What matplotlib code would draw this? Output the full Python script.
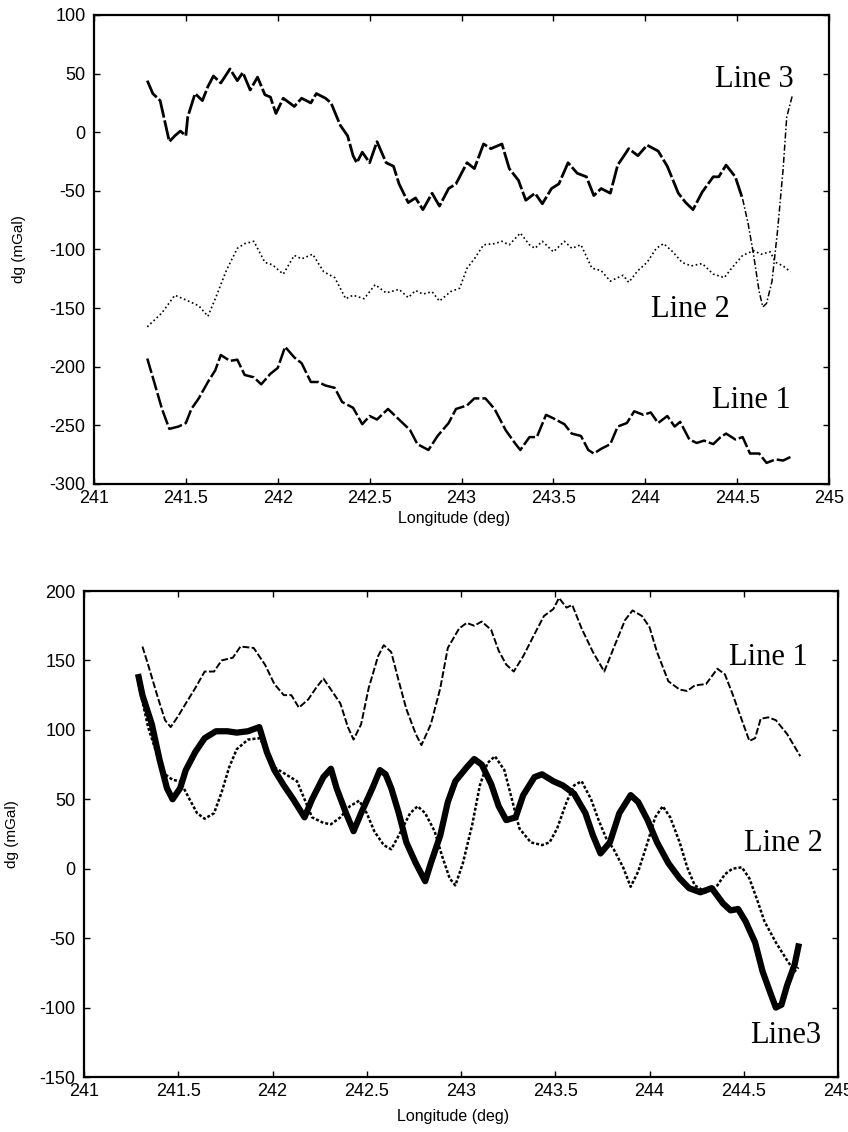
import matplotlib
matplotlib.use("Agg")
import matplotlib.pyplot as plt
import numpy as np

# ---------------- Top panel data ----------------
top_l3_x = [241.29,241.32,241.36,241.38,241.41,241.44,241.47,241.50,241.51,241.55,241.59,241.62,241.65,241.69,
            241.74,241.78,241.81,241.85,241.89,241.93,241.96,241.99,242.03,242.09,242.13,242.18,242.21,242.26,
            242.29,242.34,242.38,242.41,242.43,242.46,242.50,242.54,242.59,242.63,242.66,242.71,242.75,242.79,
            242.84,242.88,242.93,242.97,243.03,243.07,243.12,243.16,243.22,243.26,243.31,243.35,243.40,243.44,
            243.49,243.53,243.58,243.63,243.68,243.72,243.76,243.81,243.85,243.91,243.96,244.01,244.07,244.12,
            244.18,244.22,244.26,244.31,244.37,244.40,244.44,244.49,244.53,244.56,244.59,244.62,244.64,244.66,
            244.69,244.72,244.75,244.77,244.80]
top_l3_y = [44,33,27,13,-8,-3,1,-3,13,33,27,39,48,42,54,44,51,36,47,32,30,16,29,22,29,25,33,29,25,6,-3,-20,-26,
            -17,-26,-8,-26,-29,-44,-60,-56,-66,-52,-63,-48,-44,-26,-31,-10,-14,-10,-31,-41,-58,-52,-61,-48,-44,
            -26,-35,-38,-54,-48,-52,-28,-14,-20,-11,-16,-29,-52,-60,-66,-51,-38,-38,-28,-38,-57,-78,-105,-136,
            -149,-146,-127,-84,-32,13,31]

top_l2_x = [241.29,241.37,241.44,241.50,241.57,241.62,241.66,241.72,241.78,241.82,241.87,241.93,241.97,242.03,
            242.09,242.13,242.19,242.25,242.31,242.37,242.41,242.47,242.53,242.59,242.66,242.71,242.75,242.79,
            242.84,242.88,242.94,242.99,243.03,243.07,243.12,243.18,243.22,243.26,243.32,243.37,243.40,243.44,
            243.50,243.56,243.60,243.65,243.71,243.76,243.81,243.85,243.88,243.91,243.96,244.01,244.06,244.10,
            244.15,244.20,244.25,244.31,244.37,244.43,244.47,244.53,244.59,244.63,244.68,244.71,244.75,244.79]
top_l2_y = [-166,-154,-139,-143,-148,-157,-142,-118,-99,-95,-93,-111,-113,-121,-105,-108,-104,-119,-124,-142,
            -139,-142,-130,-137,-134,-141,-135,-138,-136,-144,-136,-133,-116,-108,-96,-95,-93,-96,-86,-96,-99,
            -93,-102,-93,-99,-96,-116,-118,-127,-124,-122,-128,-118,-111,-99,-95,-102,-111,-114,-112,-121,-124,
            -116,-105,-101,-104,-102,-111,-114,-119]

top_l1_x = [241.29,241.32,241.37,241.41,241.46,241.50,241.53,241.57,241.62,241.66,241.69,241.74,241.78,241.82,
            241.87,241.91,241.96,242.00,242.04,242.09,242.13,242.18,242.22,242.26,242.31,242.35,242.41,242.46,
            242.50,242.54,242.60,242.66,242.72,242.76,242.82,242.87,242.93,242.97,243.03,243.07,243.13,243.18,
            243.24,243.29,243.32,243.37,243.41,243.46,243.50,243.56,243.60,243.65,243.69,243.72,243.76,243.81,
            243.85,243.90,243.94,243.99,244.03,244.07,244.12,244.16,244.19,244.24,244.28,244.32,244.37,244.41,
            244.44,244.49,244.53,244.57,244.62,244.66,244.71,244.75,244.79]
top_l1_y = [-193,-209,-236,-253,-251,-248,-236,-227,-213,-203,-190,-195,-194,-207,-209,-215,-206,-201,-183,-192,
            -197,-213,-213,-216,-218,-230,-235,-249,-242,-245,-236,-245,-254,-266,-271,-259,-248,-236,-233,-227,
            -227,-236,-254,-265,-271,-260,-260,-241,-244,-249,-257,-259,-271,-274,-270,-266,-251,-248,-238,-241,
            -239,-248,-242,-251,-247,-262,-265,-263,-266,-260,-257,-262,-260,-274,-274,-282,-279,-280,-277]

# ---------------- Bottom panel data ----------------
bot_l1_x = [241.31,241.34,241.39,241.43,241.46,241.50,241.54,241.59,241.64,241.69,241.73,241.79,241.83,241.90,
            241.96,242.01,242.06,242.10,242.14,242.19,242.23,242.27,242.31,242.36,242.40,242.43,242.47,242.51,
            242.56,242.59,242.63,242.67,242.71,242.76,242.79,242.84,242.89,242.93,242.99,243.03,243.07,243.11,
            243.16,243.20,243.24,243.28,243.33,243.39,243.44,243.49,243.52,243.56,243.59,243.64,243.70,243.76,
            243.81,243.87,243.91,243.96,244.00,244.04,244.10,244.16,244.20,244.24,244.30,244.36,244.40,244.44,
            244.49,244.53,244.56,244.59,244.63,244.67,244.73,244.80]
bot_l1_y = [160,147,124,107,102,110,119,130,142,142,150,152,160,159,147,133,125,125,116,122,130,137,129,119,102,
            93,104,130,153,161,156,135,115,97,89,104,130,159,173,177,175,178,172,157,147,142,153,169,182,187,195,
            188,190,173,156,142,159,179,186,182,174,156,135,129,128,132,133,144,140,126,107,92,94,108,109,107,97,81]

bot_l2_x = [241.29,241.34,241.39,241.43,241.47,241.51,241.56,241.60,241.64,241.69,241.73,241.77,241.81,241.87,
            241.93,241.97,242.01,242.07,242.13,242.17,242.21,242.27,242.31,242.36,242.41,242.46,242.50,242.54,
            242.59,242.63,242.67,242.73,242.77,242.81,242.86,242.90,242.94,242.97,243.01,243.06,243.10,243.14,
            243.18,243.23,243.27,243.31,243.37,243.43,243.47,243.51,243.56,243.60,243.64,243.69,243.73,243.77,
            243.81,243.86,243.90,243.94,243.99,244.03,244.07,244.11,244.16,244.20,244.24,244.30,244.36,244.40,
            244.44,244.49,244.53,244.57,244.61,244.67,244.73,244.77,244.79]
bot_l2_y = [133,102,81,68,64,63,50,40,36,40,55,73,86,93,94,86,73,68,63,50,37,33,32,37,45,49,40,27,17,14,24,40,45,
            40,27,9,-7,-12,4,32,60,76,81,71,50,29,19,17,19,29,48,60,63,50,35,22,14,1,-13,-2,19,37,45,37,19,1,-12,
            -17,-12,-4,0,1,-7,-22,-38,-53,-66,-74,-71]

bot_l3_x = [241.29,241.31,241.36,241.40,241.44,241.47,241.51,241.54,241.59,241.64,241.70,241.76,241.81,241.87,
            241.93,241.97,242.01,242.06,242.11,242.17,242.21,242.27,242.31,242.34,242.39,242.43,242.47,242.53,
            242.57,242.60,242.63,242.67,242.71,242.76,242.81,242.84,242.89,242.93,242.97,243.03,243.07,243.11,
            243.16,243.20,243.24,243.29,243.33,243.39,243.43,243.49,243.54,243.60,243.66,243.70,243.74,243.79,
            243.84,243.90,243.94,243.99,244.04,244.10,244.16,244.21,244.27,244.33,244.39,244.43,244.47,244.51,
            244.56,244.60,244.64,244.67,244.70,244.73,244.77,244.79]
bot_l3_y = [138,125,104,79,58,50,58,71,84,94,99,99,98,99,102,84,71,60,50,37,50,66,72,58,40,27,40,58,71,68,58,40,
            19,4,-9,4,24,48,63,73,79,75,61,45,35,37,53,66,68,63,60,54,40,24,11,19,40,53,48,35,19,4,-7,-14,-17,-14,
            -25,-30,-29,-38,-53,-74,-89,-100,-98,-84,-69,-56]

x_ticks = [241, 241.5, 242, 242.5, 243, 243.5, 244, 244.5, 245]
x_ticklabels = ["241", "241.5", "242", "242.5", "243", "243.5", "244", "244.5", "245"]
top_yticks = [-300, -250, -200, -150, -100, -50, 0, 50, 100]
bot_yticks = [-150, -100, -50, 0, 50, 100, 150, 200]

SANS = ["Liberation Sans", "DejaVu Sans"]
SERIF = ["Liberation Serif", "DejaVu Serif"]
plt.rcParams["font.family"] = SANS

fig = plt.figure(figsize=(8.48, 11.32), dpi=100)
ax1 = fig.add_axes([94/848, 1-484/1132, 735/848, 469/1132])
ax2 = fig.add_axes([84/848, 1-1077/1132, 754/848, 486/1132])


def style(ax, yticks, ylim, fs):
    ax.set_xlim(241, 245)
    ax.set_ylim(*ylim)
    ax.set_xticks(x_ticks)
    ax.set_xticklabels(x_ticklabels)
    ax.set_yticks(yticks)
    ax.set_yticklabels([str(v) for v in yticks])
    ax.tick_params(direction="in", top=True, right=True, length=4.5, width=1.0,
                   labelsize=fs, colors="black")
    ax.tick_params(axis="x", pad=4)
    ax.tick_params(axis="y", pad=6)
    for s in ax.spines.values():
        s.set_linewidth(1.6)
    ax.set_xlabel("Longitude (deg)", fontsize=11.5)
    ax.set_ylabel("dg (mGal)", fontsize=11)


# ---- Top panel ----
x3 = np.array(top_l3_x); y3 = np.array(top_l3_y)
main = x3 <= 244.53
ax1.plot(x3[main], y3[main], color="black", lw=2.0, dashes=(7, 1))
tail = x3 >= 244.53
ax1.plot(x3[tail], y3[tail], color="black", lw=1.1, dashes=(4, 1.5, 1, 1.5))
ax1.plot(top_l2_x, top_l2_y, color="black", lw=1.2, dashes=(1, 1.6))
ax1.plot(top_l1_x, top_l1_y, color="black", lw=1.8, dashes=(6, 1.2))
style(ax1, top_yticks, (-300, 100), 13)
ax1.xaxis.set_label_coords(0.49, -0.058)
ax1.yaxis.set_label_coords(-0.092, 0.5)
ax1.text(244.81, 45, "Line 3", family=SERIF, fontsize=22, ha="right", va="center")
ax1.text(244.46, -151, "Line 2", family=SERIF, fontsize=22, ha="right", va="center")
ax1.text(244.79, -229, "Line 1", family=SERIF, fontsize=22, ha="right", va="center")

# ---- Bottom panel ----
ax2.plot(bot_l1_x, bot_l1_y, color="black", lw=1.4, dashes=(3.5, 1.2))
ax2.plot(bot_l2_x, bot_l2_y, color="black", lw=1.8, dashes=(1.2, 0.8))
ax2.plot(bot_l3_x, bot_l3_y, color="black", lw=4.5, solid_joinstyle="round")
style(ax2, bot_yticks, (-150, 200), 13)
ax2.xaxis.set_label_coords(0.49, -0.066)
ax2.yaxis.set_label_coords(-0.086, 0.5)
ax2.text(244.84, 152, "Line 1", family=SERIF, fontsize=22, ha="right", va="center")
ax2.text(244.92, 18, "Line 2", family=SERIF, fontsize=22, ha="right", va="center")
ax2.text(244.91, -120, "Line3", family=SERIF, fontsize=22, ha="right", va="center")

fig.savefig("out.png", dpi=100)
